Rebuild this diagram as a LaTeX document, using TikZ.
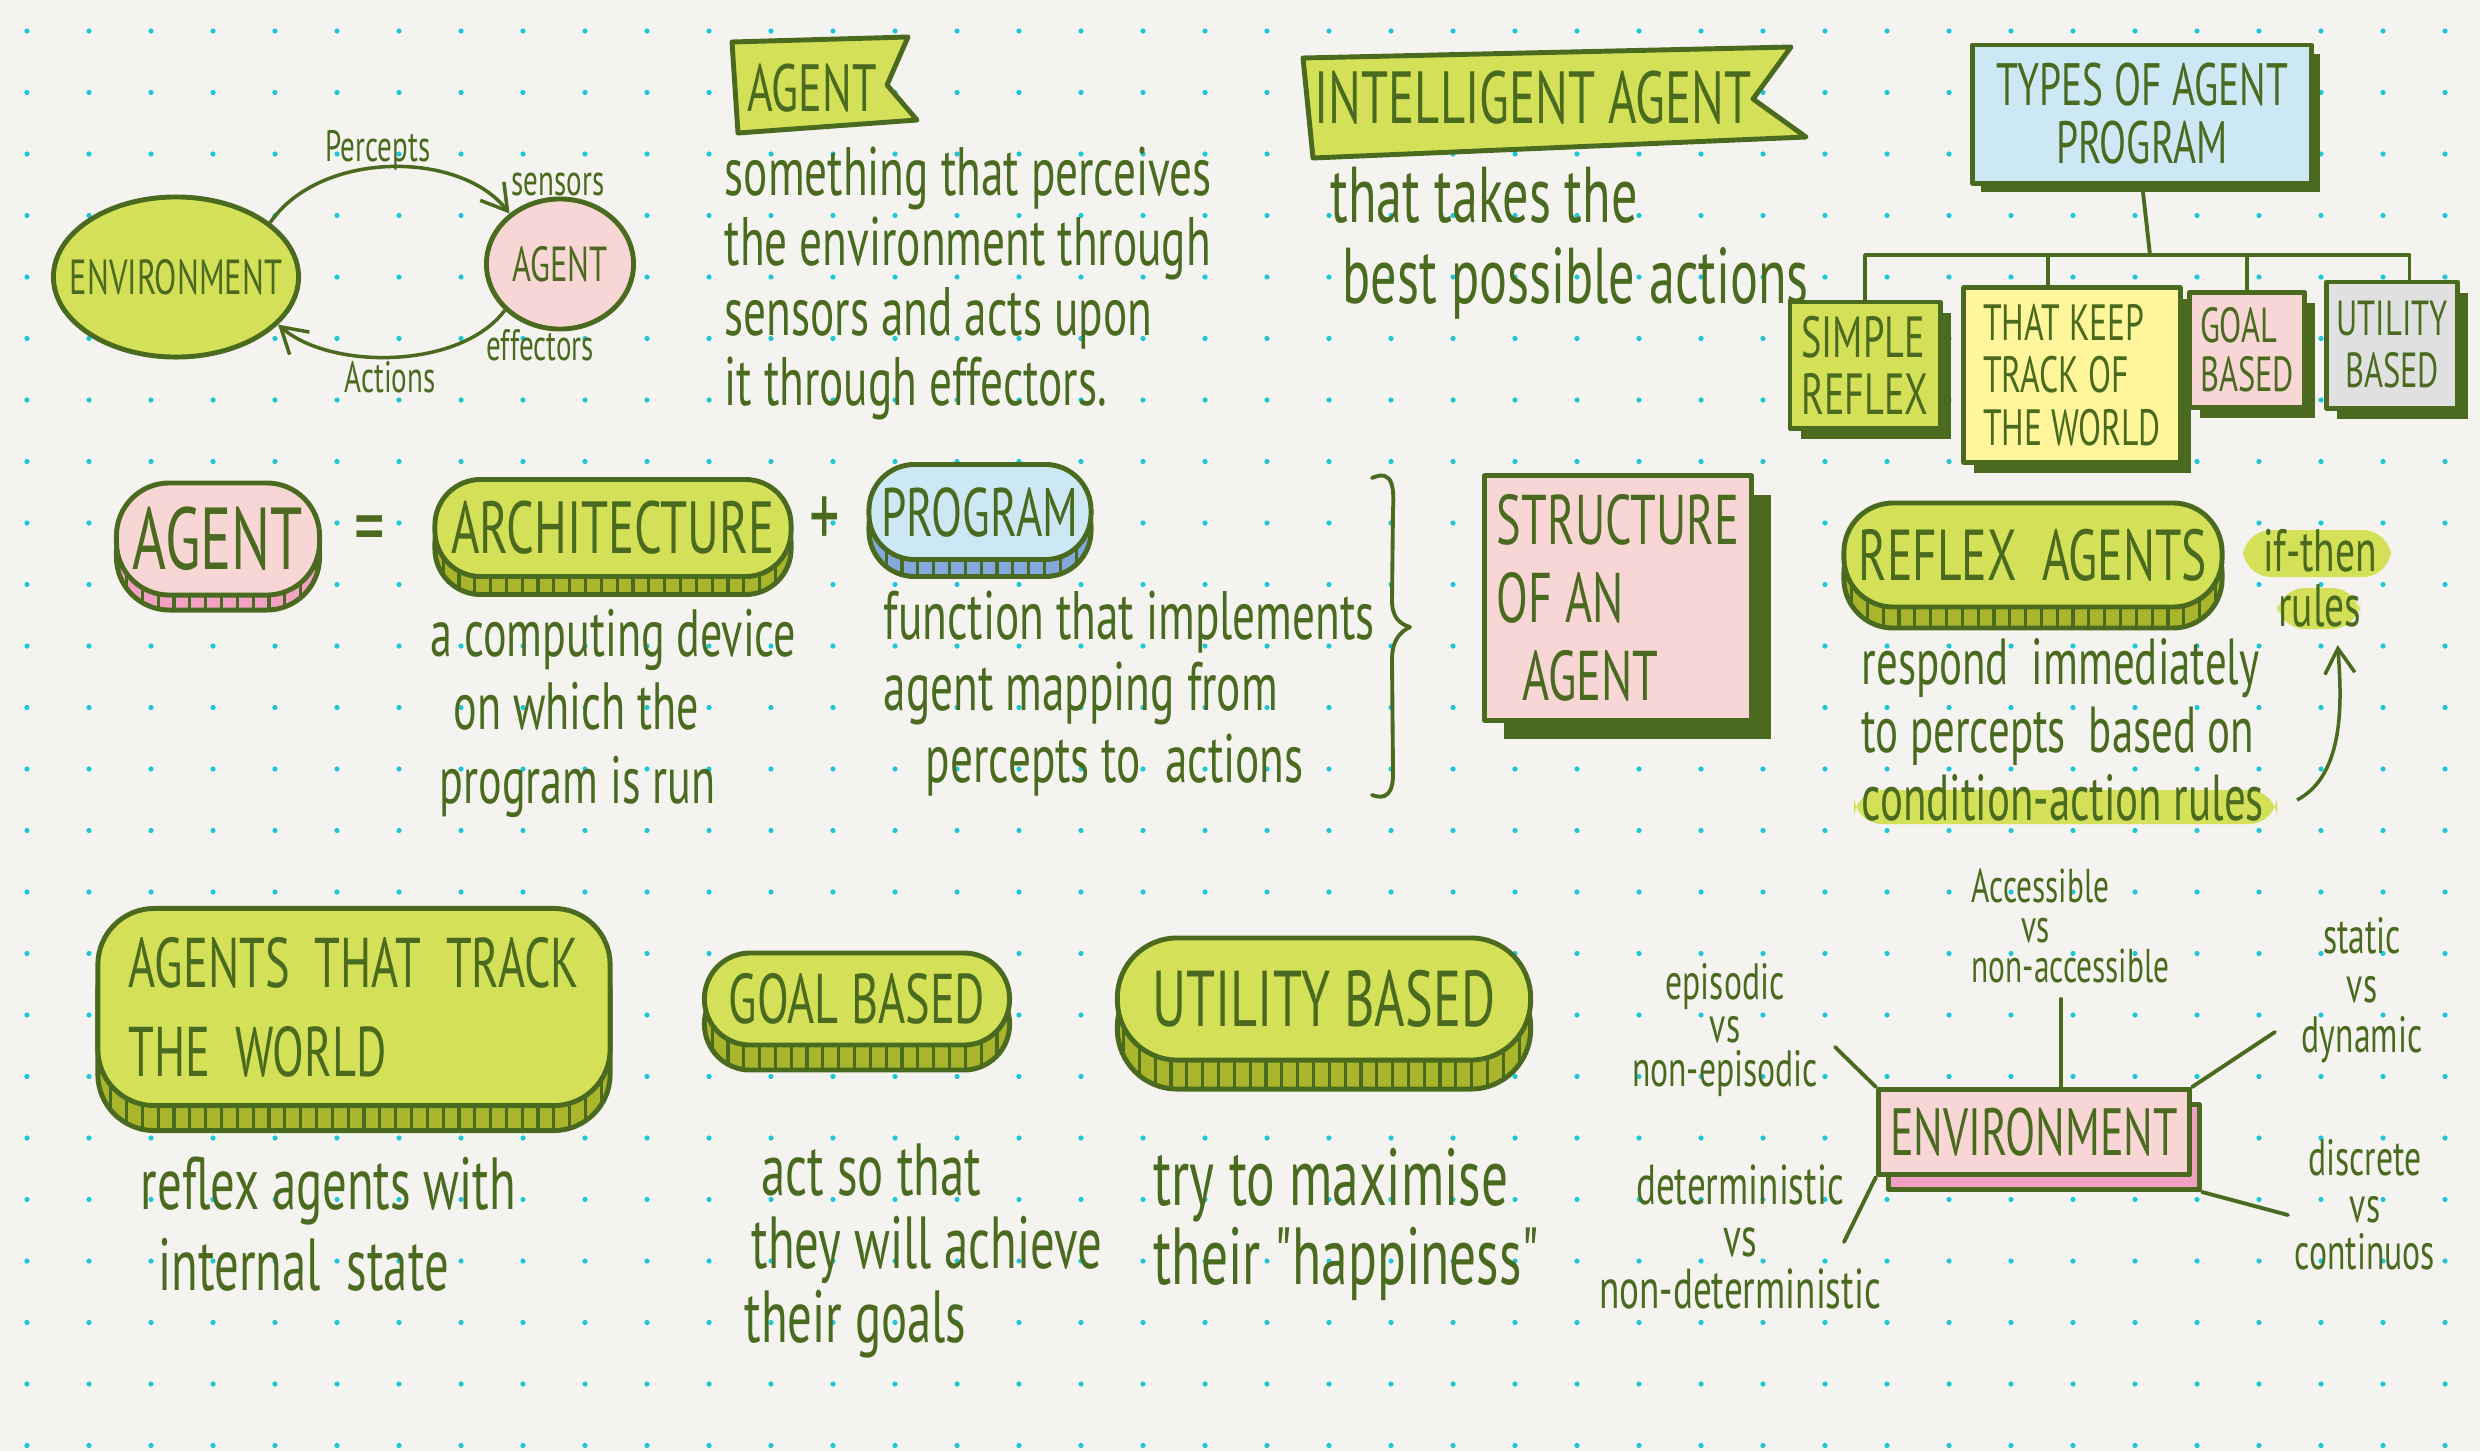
\documentclass[tikz,border=0pt]{standalone}
\usepackage{fontspec}
\setmainfont{PT Sans}[FakeStretch=0.66, Ligatures=TeXOff]
\usetikzlibrary{arrows.meta,positioning,shapes.geometric,shadows,patterns.meta}

\definecolor{paper}{HTML}{F4F3EF}
\definecolor{dotc}{HTML}{1CC8D8}
\definecolor{ink}{HTML}{4A6B1F}
\definecolor{lime}{HTML}{D4E057}
\definecolor{limedk}{HTML}{A9B62B}
\definecolor{rose}{HTML}{F9D6D6}
\definecolor{rosedk}{HTML}{F2A0C3}
\definecolor{sky}{HTML}{CCE8F5}
\definecolor{skydk}{HTML}{82A8DC}
\definecolor{butter}{HTML}{FFF69C}
\definecolor{ash}{HTML}{E0E0E0}

\newcommand{\fsz}[2]{\fontsize{#1}{#2}\selectfont}

\tikzset{
  coinface/.style={draw=ink, line width=1.4pt},
  coinside/.style={draw=ink, line width=1.4pt, preaction={fill=#1},
    pattern={Lines[angle=90,distance=4.5pt,line width=0.9pt]}, pattern color=ink},
  card/.style={draw=ink, line width=1.4pt,
    drop shadow={shadow xshift=#1, shadow yshift=-#1, fill=ink, opacity=1}},
  card/.default=3pt,
  lbl/.style={font=\fsz{12.5}{14}},
  note/.style={font=\fsz{14.5}{#1}, align=center},
  flow/.style={draw=ink, line width=1pt, -{Straight Barb[length=2.5mm,width=3mm]}},
  twig/.style={draw=ink, line width=1.1pt, line cap=round},
}

\begin{document}
\begin{tikzpicture}[x=0.01cm, y=-0.01cm, line join=round,
  every node/.style={text=ink, inner sep=0pt}]
\useasboundingbox (0,0) rectangle (2480,1451);
\fill[paper] (0,0) rectangle (2480,1451);
\foreach \i in {0,...,39} \foreach \j in {0,...,23}
  \fill[dotc] ({27+62*\i},{31+61.5*\j}) circle[radius=2.6];

% percepts / actions loop
\node[ellipse, draw=ink, line width=1.4pt, fill=lime, minimum width=2.45cm, minimum height=1.6cm,
  label={[font=\fsz{14}{16}]center:ENVIRONMENT}] (envL) at (176,277) {};
\node[ellipse, draw=ink, line width=1.4pt, fill=rose, minimum width=1.47cm, minimum height=1.3cm,
  label={[font=\fsz{14}{16}]center:AGENT}] (agtL) at (560,264) {};
\draw[flow] (envL.30) .. controls (320,150) and (460,150) .. (agtL.135);
\draw[flow] (agtL.220) .. controls (460,370) and (330,370) .. (envL.-25);
\node[lbl] (perc) at (378,150) {Percepts};
\node[lbl] (sens) at (558,185) {sensors};
\node[lbl] (effe) at (540,345) {effectors};
\node[lbl] (acts) at (390,377) {Actions};

% agent banner
\filldraw[fill=lime, draw=ink, line width=1.4pt] (732,42) -- (908,37) -- (887,85) -- (917,120) -- (738,133) -- cycle;
\node[font=\fsz{19}{20}] (agtT) at (812,88) {AGENT};
\node[font=\fsz{19.5}{19.9}, align=left, anchor=base west] (agtD) at (724,405) {something that perceives\\the environment through\\sensors and acts upon\\it through effectors.};

% intelligent agent banner
\filldraw[fill=lime, draw=ink, line width=1.4pt] (1303,58) -- (1791,47) -- (1753,99) -- (1806,137) -- (1313,158) -- cycle;
\node[font=\fsz{21}{22}] (intT) at (1533,98) {INTELLIGENT AGENT};
\node[font=\fsz{22.5}{23}, align=left, anchor=base west] (intD) at (1330,303) {that takes the\\\hspace{0.12cm}best possible actions};

% types of agent program
\coordinate (fork) at (2150,255);
\draw[twig] (2142,183) -- (fork);
\node[card=2.5pt, fill=sky, minimum width=3.39cm, minimum height=1.38cm, font=\fsz{17}{16.5}, align=center] (types) at (2142,114) {TYPES OF AGENT\\PROGRAM};
\node[card, fill=lime, minimum width=1.5cm, minimum height=1.26cm, font=\fsz{16.5}{16.2}, align=left] (simple) at (1865,365) {SIMPLE\\REFLEX};
\node[card, fill=butter, minimum width=2.16cm, minimum height=1.74cm, font=\fsz{14.5}{15}, align=left] (keep) at (2072,375) {THAT KEEP\\TRACK OF\\THE WORLD};
\node[card, fill=rose, minimum width=1.15cm, minimum height=1.15cm, font=\fsz{14}{14}, align=left] (goalB) at (2247,350) {GOAL\\BASED};
\node[card, fill=ash, minimum width=1.31cm, minimum height=1.26cm, font=\fsz{14}{14.8}, align=center] (util) at (2392,345) {UTILITY\\BASED};
\draw[twig] (simple.north) |- (fork);
\draw[twig] (keep.105) |- (fork);
\draw[twig] (goalB.north) |- (fork);
\draw[twig] (util.75) |- (fork);

% agent = architecture + program
\node[coinside=rosedk, rounded corners=15pt, minimum width=2.03cm, minimum height=1.12cm] (agtS) at (218,554) {};
\node[coinface, fill=rose, rounded corners=15pt, minimum width=2.03cm, minimum height=1.12cm, font=\fsz{25}{26}] (agtM) at (218,539) {AGENT};
\node[font=\fsz{26}{26}] (eq) at (370,537) {=};
\node[coinside=limedk, rounded corners=13pt, minimum width=3.56cm, minimum height=0.97cm] (archS) at (613,546) {};
\node[coinface, fill=lime, rounded corners=13pt, minimum width=3.56cm, minimum height=0.97cm, font=\fsz{21}{22}] (arch) at (613,528) {ARCHITECTURE};
\node[font=\fsz{26}{26}] (plus) at (825,522) {+};
\node[coinside=skydk, rounded corners=13pt, minimum width=2.22cm, minimum height=0.95cm] (progS) at (980,529) {};
\node[coinface, fill=sky, rounded corners=13pt, minimum width=2.22cm, minimum height=0.95cm, font=\fsz{19.5}{20}] (prog) at (980,512) {PROGRAM};
\node[font=\fsz{19}{20.8}, align=left, anchor=base west] (archD) at (430,803) {a computing device\\\hspace{0.23cm}on which the\\\hspace{0.09cm}program is run};
\node[font=\fsz{19.5}{20.2}, align=left, anchor=base west] (progD) at (883,782) {function that implements\\agent mapping from\\\hspace{0.42cm}percepts to\ \ actions};
\draw[ink, line width=1.1pt, line cap=round] (1372,478) .. controls (1394,468) and (1394,490) .. (1393,510) -- (1392,600) .. controls (1392,618) and (1400,624) .. (1410,627) .. controls (1400,632) and (1392,640) .. (1392,660) -- (1393,770) .. controls (1394,795) and (1385,800) .. (1372,795);

% structure of an agent
\node[card=5.5pt, fill=rose, minimum width=2.67cm, minimum height=2.44cm, font=\fsz{20}{22.2}, align=left] (struct) at (1618,598) {STRUCTURE\\OF AN\\\hspace{0.25cm}AGENT};

% reflex agents
\node[coinside=limedk, rounded corners=14pt, minimum width=3.78cm, minimum height=1.04cm] (reflS) at (2033,576) {};
\node[coinface, fill=lime, rounded corners=14pt, minimum width=3.78cm, minimum height=1.04cm, font=\fsz{20.5}{21}] (refl) at (2033,555) {REFLEX\ \ AGENTS};
\fill[lime, rounded corners=8pt] (2243,530) rectangle (2391,577);
\fill[lime, rounded corners=8pt] (2277,588) rectangle (2360,629);
\node[font=\fsz{17}{15.5}, align=center] (ifrule) at (2320,578) {if-then\\rules};
\fill[lime, rounded corners=8pt] (1854,790) rectangle (2277,824);
\node[font=\fsz{18.5}{19.3}, align=left, anchor=base west] (reflD) at (1861,820) {respond\ \ immediately\\to percepts\ \ based on\\condition-action rules};
\coordinate (loopTail) at (2297,800);
\draw[flow] (loopTail) .. controls (2345,775) and (2342,700) .. ([xshift=5pt,yshift=-5pt]ifrule.south);

% agents that track the world
\node[coinside=limedk, rounded corners=16pt, minimum width=5.12cm, minimum height=1.97cm] (trackS) at (354,1032) {};
\node[coinface, fill=lime, rounded corners=16pt, minimum width=5.12cm, minimum height=1.97cm, font=\fsz{20}{25.3}, align=left] (track) at (354,1007) {AGENTS\ \ THAT\ \ TRACK\\THE\ \ WORLD};
\node[font=\fsz{21}{22.8}, align=left, anchor=base west] (trackD) at (140,1290) {reflex agents with\\\hspace{0.18cm}internal\ \ state};

% goal based
\node[coinside=limedk, rounded corners=13pt, minimum width=3.05cm, minimum height=0.92cm] (goalS) at (857,1024) {};
\node[coinface, fill=lime, rounded corners=13pt, minimum width=3.05cm, minimum height=0.92cm, font=\fsz{20}{21}] (goal) at (857,999) {GOAL BASED};
\node[font=\fsz{21}{20.8}, align=left, anchor=base west] (goalD) at (744,1342) {\hspace{0.17cm}act so that\\\hspace{0.07cm}they will achieve\\their goals};

% utility based
\node[coinside=limedk, rounded corners=17pt, minimum width=4.13cm, minimum height=1.22cm] (utilS) at (1324,1028) {};
\node[coinface, fill=lime, rounded corners=17pt, minimum width=4.13cm, minimum height=1.22cm, font=\fsz{22.5}{23}] (utilB) at (1324,999) {UTILITY BASED};
\node[font=\fsz{23}{22.2}, align=left, anchor=base west] (utilD) at (1153,1284) {try to maximise\\their "happiness"};

% environment properties
\node[draw=ink, line width=1.4pt, fill=rosedk, minimum width=3.11cm, minimum height=0.85cm] (envS) at (2044,1147) {};
\node[draw=ink, line width=1.4pt, fill=rose, minimum width=3.11cm, minimum height=0.85cm, font=\fsz{19}{19}] (envB) at (2034,1132) {ENVIRONMENT};
\coordinate (eA) at (2061,999);
\coordinate (eE) at (1835,1047);
\coordinate (eS) at (2275,1032);
\coordinate (eD) at (1844,1242);
\coordinate (eC) at (2288,1215);
\draw[twig] (envB.north -| eA) -- (eA);
\draw[twig] (envB.north west) -- (eE);
\draw[twig] (envB.north east) -- (eS);
\draw[twig] (envB.south west) -- (eD);
\draw[twig] (envS.south east) -- (eC);
\node[note=11.4, font=\fsz{13.5}{11.4}, align=left, anchor=west] (accL) at (1971,926) {Accessible\\\hspace{0.5cm}vs\\non-accessible};
\node[note=12.4] (epiL) at (1725,1030) {episodic\\vs\\non-episodic};
\node[note=14] (statL) at (2362,990) {static\\vs\\dynamic};
\node[note=14.8, font=\fsz{16}{14.8}] (detL) at (1740,1237) {deterministic\\vs\\non-deterministic};
\node[note=13.4] (discL) at (2365,1205) {discrete\\vs\\continuos};
\end{tikzpicture}
\end{document}
